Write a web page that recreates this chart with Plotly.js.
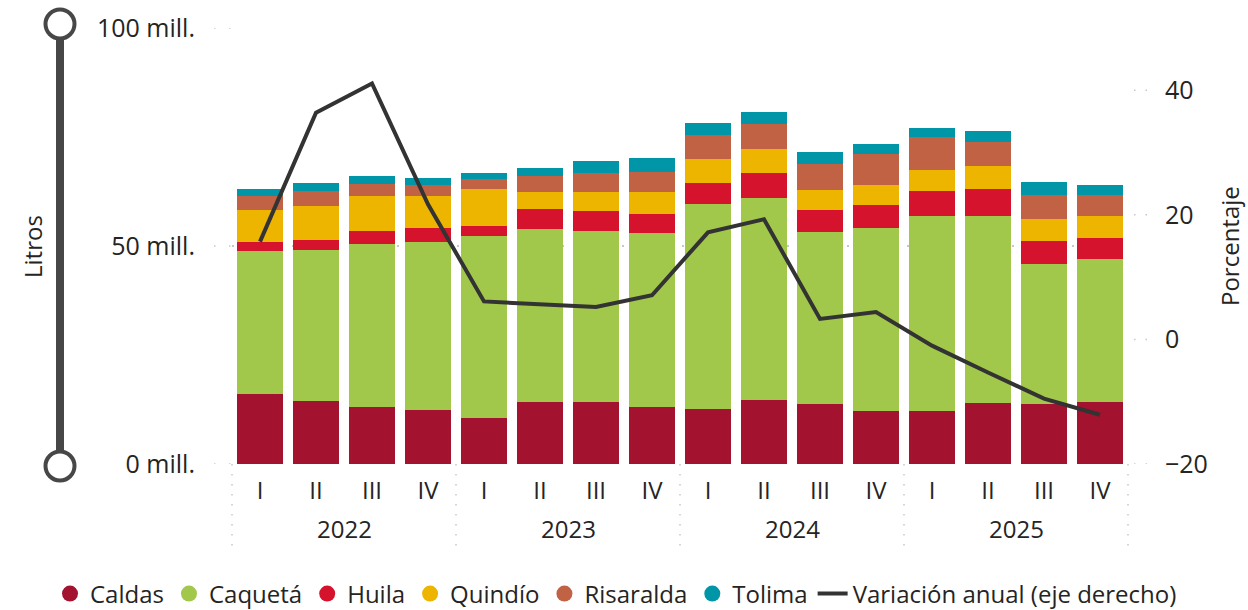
<!DOCTYPE html>
<html>
<head>
<meta charset="utf-8">
<script src="https://cdn.plot.ly/plotly-3.0.1.min.js"></script>
<style>
html,body{margin:0;padding:0;background:#fff;}
#chart{width:1248px;height:610px;}
</style>
</head>
<body>
<div id="chart"></div>
<script>
const years = ['2022','2022','2022','2022','2023','2023','2023','2023','2024','2024','2024','2024','2025','2025','2025','2025'];
const quarters = ['I','II','III','IV','I','II','III','IV','I','II','III','IV','I','II','III','IV'];
const caldas    = [16.1,14.5,13.1,12.4,10.6,14.2,14.2,13.1,12.6,14.7,13.8,12.2,12.2,14.0,13.8,14.2];
const caqueta   = [32.8,34.6,37.4,38.5,41.7,39.7,39.2,39.9,47.0,46.3,39.4,42.0,44.7,42.9,32.1,32.8];
const huila     = [2.1,2.3,3.0,3.2,2.3,4.6,4.6,4.4,4.8,5.7,5.0,5.3,5.7,6.2,5.3,4.8];
const quindio   = [7.3,7.8,8.0,7.3,8.5,3.9,4.4,5.0,5.5,5.5,4.6,4.6,4.8,5.3,5.0,5.0];
const risaralda = [3.2,3.4,2.8,2.5,2.3,3.7,4.4,4.6,5.5,5.7,6.0,7.1,7.6,5.5,5.5,5.0];
const tolima    = [1.6,1.8,1.8,1.8,1.4,1.8,2.8,3.2,2.8,2.8,2.8,2.1,2.1,2.5,3.0,2.3];
const variacion = [15.7,36.4,41.1,21.7,6.1,5.6,5.2,7.1,17.2,19.3,3.3,4.4,-1.0,-5.3,-9.5,-12.1];

const seriesNames = ['Caldas','Caquetá','Huila','Quindío','Risaralda','Tolima'];
const seriesData = [caldas, caqueta, huila, quindio, risaralda, tolima];
const seriesColors = ['#A31330','#A1C84B','#D5132C','#EDB500','#C26245','#0096A8'];
const lineName = 'Variación anual (eje derecho)';
const leftTickVals = [0,50,100];
const leftTickText = ['0 mill.','50 mill.','100 mill.'];
const rightTickVals = [-20,0,20,40];

const FONT = '"Segoe UI", "Open Sans", "Noto Sans", sans-serif';
const TXT = '#252423';
const FS = 24;
// unique category keys (year + quarter); only the quarter is shown as tick text
const cats = years.map((y,i)=> y + ' ' + quarters[i]);

const traces = [];
seriesData.forEach((d,i)=>{
  traces.push({
    type:'bar', name:seriesNames[i], x:cats, y:d,
    marker:{color:seriesColors[i]}, showlegend:false, legendgroup:seriesNames[i],
    hoverinfo:'y+name'
  });
});
seriesNames.forEach((n,i)=>{
  traces.push({
    type:'scatter', mode:'markers', name:n, x:[cats[0]], y:[null],
    marker:{color:seriesColors[i], size:16, symbol:'circle'}, legendgroup:n, showlegend:true,
    hoverinfo:'skip'
  });
});
traces.push({
  type:'scatter', mode:'lines', name:lineName, x:cats, y:variacion, yaxis:'y2',
  line:{color:'#333333', width:4}
});

// plot area in px: x 232..1128, y 28..464
const L=232, R=1128, T=28, B=464, W=R-L, H=B-T;
const px = v => (v-L)/W;
const py = v => (B-v)/H;

const shapes = [];
// year dividers (dotted)
[0,0.25,0.5,0.75,1].forEach(f=>{
  shapes.push({type:'line', xref:'paper', yref:'paper', x0:f, x1:f, y0:0, y1:py(551),
    line:{color:'#c8c8c8', width:1.5, dash:'1.5px,8.5px'}, layer:'below'});
});
// left gridline stubs
leftTickVals.forEach(v=>{
  shapes.push({type:'line', xref:'paper', yref:'y', x0:px(214), x1:0, y0:v, y1:v,
    line:{color:'#c8c8c8', width:1.5, dash:'1.5px,13.5px'}, layer:'below'});
});
// right tick stubs
rightTickVals.forEach(v=>{
  shapes.push({type:'line', xref:'paper', yref:'y2', x0:px(1134), x1:px(1150), y0:v, y1:v,
    line:{color:'#c8c8c8', width:1.5, dash:'1.5px,10px'}, layer:'below'});
});
// slider decoration on the left
shapes.push({type:'line', xref:'paper', yref:'paper', x0:px(60), x1:px(60), y0:py(24), y1:py(466),
  line:{color:'#474747', width:8}});
[24,466].forEach(cy=>{
  shapes.push({type:'circle', xref:'paper', yref:'paper', x0:px(45.5), x1:px(74.5), y0:py(cy+14.5), y1:py(cy-14.5),
    fillcolor:'#ffffff', line:{color:'#474747', width:4}});
});

// year group labels, centred under each group of quarters
const yearLabels = [];
const uniqYears = [...new Set(years)];
uniqYears.forEach(y=>{
  const idx = years.map((v,i)=> v===y ? i : -1).filter(i=>i>=0);
  const mid = (idx[0] + idx[idx.length-1]) / 2;
  yearLabels.push({text:y, xref:'x', yref:'paper', x:mid, y:py(528), xanchor:'center', yanchor:'middle',
    showarrow:false, font:{family:FONT, size:FS, color:TXT}});
});

const layout = {
  width:1248, height:610,
  margin:{l:L, r:1248-R, t:T, b:610-B, autoexpand:false},
  paper_bgcolor:'#ffffff', plot_bgcolor:'#ffffff',
  font:{family:FONT, size:FS, color:TXT},
  barmode:'stack', bargap:0.196,
  showlegend:true,
  legend:{orientation:'h', x:px(50), xanchor:'left', y:py(594), yanchor:'middle',
    font:{family:FONT, size:FS, color:TXT}, itemwidth:30, tracegroupgap:0, traceorder:'normal'},
  xaxis:{type:'category', range:[-0.5,15.5], tickvals:cats, ticktext:quarters, showgrid:false, zeroline:false,
    showline:false, ticks:'', ticklabelstandoff:10, tickfont:{family:FONT, size:FS, color:TXT}, fixedrange:true},
  yaxis:{range:[0,100], tickvals:leftTickVals, ticktext:leftTickText, showgrid:true,
    gridcolor:'#c8c8c8', griddash:'1.5px,13.5px', gridwidth:1.5, zeroline:false, showline:false,
    ticks:'', ticklabelstandoff:36, tickfont:{family:FONT, size:25, color:TXT}, fixedrange:true},
  yaxis2:{range:[-20,50], tickvals:rightTickVals, overlaying:'y', side:'right', showgrid:false,
    zeroline:false, showline:false, ticks:'', ticklabelstandoff:36,
    tickfont:{family:FONT, size:25, color:TXT}, fixedrange:true},
  shapes:shapes,
  annotations:[
    {text:'Litros', xref:'paper', yref:'paper', x:px(33), y:py(247), xanchor:'center', yanchor:'middle',
      textangle:-90, showarrow:false, font:{family:FONT, size:FS, color:TXT}},
    {text:'Porcentaje', xref:'paper', yref:'paper', x:px(1229), y:py(246), xanchor:'center', yanchor:'middle',
      textangle:-90, showarrow:false, font:{family:FONT, size:FS, color:TXT}}
  ].concat(yearLabels)
};

Plotly.newPlot('chart', traces, layout, {displayModeBar:false, responsive:false});
</script>
</body>
</html>
